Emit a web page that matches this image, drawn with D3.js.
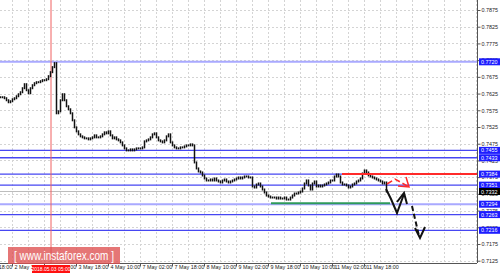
<!DOCTYPE html>
<html>
<head>
<meta charset="utf-8">
<script src="https://cdnjs.cloudflare.com/ajax/libs/d3/7.8.5/d3.min.js"></script>
<style>
  body { margin: 0; background: #fff; }
  svg { display: block; font-family: "Liberation Sans", Arial, sans-serif; }
  .grid line { stroke: #d4d4d4; stroke-dasharray: 2,2; }
  .axis path, .axis line { stroke: #555; }
  .axis text { font-size: 5.4px; fill: #222; }
</style>
</head>
<body>
<svg id="chart" width="500" height="273"></svg>
<script>
// hourly closes, one per bar
var closes = [
  0.7614, 0.7614, 0.7611, 0.7605, 0.7599, 0.7602, 0.7608, 0.7611, 0.7617, 0.7623,
  0.7629, 0.7641, 0.7653, 0.7635, 0.7626, 0.7641, 0.7650, 0.7656, 0.7659, 0.7659,
  0.7662, 0.7665, 0.7665, 0.7668, 0.7677, 0.7689, 0.7704, 0.7716, 0.7566, 0.7572,
  0.7605, 0.7623, 0.7605, 0.7587, 0.7578, 0.7566, 0.7545, 0.7524, 0.7512, 0.7503,
  0.7497, 0.7494, 0.7491, 0.7491, 0.7488, 0.7491, 0.7494, 0.7500, 0.7494, 0.7494,
  0.7497, 0.7503, 0.7509, 0.7506, 0.7512, 0.7500, 0.7491, 0.7494, 0.7488, 0.7485,
  0.7479, 0.7470, 0.7461, 0.7455, 0.7455, 0.7458, 0.7455, 0.7458, 0.7461, 0.7461,
  0.7461, 0.7464, 0.7482, 0.7485, 0.7488, 0.7494, 0.7503, 0.7506, 0.7494, 0.7485,
  0.7482, 0.7479, 0.7485, 0.7497, 0.7503, 0.7479, 0.7470, 0.7464, 0.7461, 0.7461,
  0.7464, 0.7464, 0.7467, 0.7470, 0.7470, 0.7473, 0.7470, 0.7419, 0.7401, 0.7392,
  0.7389, 0.7380, 0.7371, 0.7365, 0.7365, 0.7368, 0.7365, 0.7371, 0.7365, 0.7362,
  0.7359, 0.7365, 0.7368, 0.7362, 0.7359, 0.7362, 0.7365, 0.7368, 0.7371, 0.7374,
  0.7371, 0.7374, 0.7377, 0.7377, 0.7374, 0.7374, 0.7347, 0.7344, 0.7353, 0.7356,
  0.7347, 0.7338, 0.7329, 0.7320, 0.7317, 0.7314, 0.7314, 0.7314, 0.7311, 0.7314,
  0.7311, 0.7311, 0.7314, 0.7308, 0.7308, 0.7314, 0.7320, 0.7326, 0.7326, 0.7329,
  0.7332, 0.7341, 0.7356, 0.7365, 0.7350, 0.7338, 0.7356, 0.7362, 0.7347, 0.7350,
  0.7347, 0.7350, 0.7353, 0.7356, 0.7359, 0.7365, 0.7365, 0.7377, 0.7383, 0.7377,
  0.7359, 0.7353, 0.7353, 0.7350, 0.7344, 0.7347, 0.7353, 0.7356, 0.7362, 0.7365,
  0.7371, 0.7386, 0.7395, 0.7389, 0.7380, 0.7377, 0.7374, 0.7371, 0.7368, 0.7365,
  0.7362, 0.7356, 0.7359, 0.7332
];

var priceTicks = [0.7125, 0.7175, 0.7225, 0.7275, 0.7325, 0.7375, 0.7425, 0.7475,
  0.7525, 0.7575, 0.7625, 0.7675, 0.7725, 0.7775, 0.7825, 0.7875];
var levels = [0.7720, 0.7455, 0.7433, 0.7384, 0.7351, 0.7294, 0.7263, 0.7216];
var softLevels = [0.7720, 0.7294];
var lastPrice = 0.7332;
var resistance = 0.7384;
var support = 0.7294;

var timeBars = [-10, 6, 22, 38, 54, 70, 86, 102, 118, 134, 150, 166, 182];
var timeLabels = ["1 May 18:00", "2 May 10:00", "3 May 02:00", "3 May 18:00", "4 May 10:00",
  "7 May 02:00", "7 May 18:00", "8 May 10:00", "9 May 02:00", "9 May 18:00",
  "10 May 10:00", "11 May 02:00", "11 May 18:00"];
var gridBars = [-2, 6, 14, 22, 30, 38, 46, 54, 62, 70, 78, 86, 94, 102, 110, 118, 126,
  134, 142, 150, 158, 166, 174, 182, 190, 198, 206, 214, 222, 230, 238];
var crossBar = 25.5;
var crossLabel = "2018.05.03 05:00";

var W = 477, H = 263;
var svg = d3.select('#chart');
var x = d3.scaleLinear().domain([0, 238.5]).range([0, W]);
var y = d3.scaleLinear().domain([0.7125, 0.7875]).range([260.7, 10]);

var plot = svg.append('g');
plot.append('clipPath').attr('id', 'clip')
  .append('rect').attr('width', W).attr('height', H);
var inner = plot.append('g').attr('clip-path', 'url(#clip)');

// grid
var grid = inner.append('g').attr('class', 'grid');
grid.selectAll('.gx').data(gridBars).enter().append('line')
  .attr('x1', function (d) { return x(d) + 0.5; })
  .attr('x2', function (d) { return x(d) + 0.5; })
  .attr('y1', 0).attr('y2', H);
grid.selectAll('.gy').data(priceTicks).enter().append('line')
  .attr('x1', 0).attr('x2', W)
  .attr('y1', function (d) { return Math.round(y(d)) + 0.5; })
  .attr('y2', function (d) { return Math.round(y(d)) + 0.5; });

// current price line
inner.append('line')
  .attr('x1', 0).attr('x2', W)
  .attr('y1', y(lastPrice)).attr('y2', y(lastPrice))
  .attr('stroke', '#bdbdbd').attr('stroke-width', 1);

// levels
inner.selectAll('.level').data(levels).enter().append('line')
  .attr('x1', 0).attr('x2', W)
  .attr('y1', function (d) { return y(d); })
  .attr('y2', function (d) { return y(d); })
  .attr('stroke', function (d) { return softLevels.indexOf(d) >= 0 ? '#a9a9ff' : '#4646f2'; })
  .attr('stroke-width', function (d) { return softLevels.indexOf(d) >= 0 ? 2 : 1.3; });

// crosshair
inner.append('line')
  .attr('x1', x(crossBar)).attr('x2', x(crossBar))
  .attr('y1', 0).attr('y2', H)
  .attr('stroke', '#f06060').attr('stroke-width', 1);

// candles
inner.selectAll('.bar').data(closes).enter().append('line')
  .attr('x1', function (d, i) { return x(i) + 0.5; })
  .attr('x2', function (d, i) { return x(i) + 0.5; })
  .attr('y1', function (d, i) {
    var o = i > 0 ? closes[i - 1] : d;
    return Math.min(y(o), y(d)) - 1;
  })
  .attr('y2', function (d, i) {
    var o = i > 0 ? closes[i - 1] : d;
    return Math.max(y(o), y(d)) + 1;
  })
  .attr('stroke', '#111').attr('stroke-width', 1.5);

// red resistance and green support
inner.append('line')
  .attr('x1', x(171)).attr('x2', W)
  .attr('y1', y(resistance)).attr('y2', y(resistance))
  .attr('stroke', '#ff2a2a').attr('stroke-width', 2);
inner.append('line')
  .attr('x1', x(135.5)).attr('x2', x(195))
  .attr('y1', y(support) - 1).attr('y2', y(support) - 1)
  .attr('stroke', '#2e9a5a').attr('stroke-width', 2);

// hand drawn arrows
var line = d3.line();
inner.append('path')
  .attr('d', line([[386, 189], [391, 199], [397, 213], [404, 194]]))
  .attr('fill', 'none').attr('stroke', '#111').attr('stroke-width', 2);
inner.append('path')
  .attr('d', line([[397, 202], [404, 193], [407, 204]]))
  .attr('fill', 'none').attr('stroke', '#111').attr('stroke-width', 2);
inner.append('path')
  .attr('d', line([[412, 206], [419, 236]]))
  .attr('fill', 'none').attr('stroke', '#111').attr('stroke-width', 2)
  .attr('stroke-dasharray', '5,3');
inner.append('path')
  .attr('d', line([[415, 228], [420, 238], [425, 227]]))
  .attr('fill', 'none').attr('stroke', '#111').attr('stroke-width', 2);
inner.append('path')
  .attr('d', line([[387, 184], [395, 179], [409, 187]]))
  .attr('fill', 'none').attr('stroke', '#ff2a2a').attr('stroke-width', 1.5)
  .attr('stroke-dasharray', '6,3');
inner.append('path')
  .attr('d', line([[406, 177], [409, 187], [398, 186]]))
  .attr('fill', 'none').attr('stroke', '#ff2a2a').attr('stroke-width', 1.5);

// axes
var rightAxis = svg.append('g').attr('class', 'axis')
  .attr('transform', 'translate(' + (W + 0.5) + ',0)')
  .call(d3.axisRight(y).tickValues(priceTicks).tickFormat(d3.format('.4f')).tickSize(3).tickSizeOuter(0));
rightAxis.select('.domain').attr('d', 'M0,0V' + H);
rightAxis.selectAll('text').attr('x', 4);

var bottomAxis = svg.append('g').attr('class', 'axis')
  .attr('transform', 'translate(0,' + (H + 0.5) + ')')
  .call(d3.axisBottom(x).tickValues(timeBars).tickFormat(function (d, i) { return timeLabels[i]; })
    .tickSize(3).tickSizeOuter(0));
bottomAxis.select('.domain').attr('d', 'M0,0H' + W);
bottomAxis.selectAll('text').attr('text-anchor', 'start').attr('dx', 2).attr('y', 2).attr('dy', '0.71em')
  .attr('font-size', '5px');

// price boxes
var boxes = svg.append('g');
function priceBox(v, fill) {
  var g = boxes.append('g').attr('transform', 'translate(479,' + y(v) + ')');
  g.append('rect').attr('x', 0).attr('y', -3.5).attr('width', 21).attr('height', 7).attr('fill', fill);
  g.append('text').attr('x', 2).attr('y', 2).attr('font-size', '5.4px').attr('fill', '#fff')
    .text(d3.format('.4f')(v));
}
levels.forEach(function (v) { priceBox(v, '#1c1cff'); });
priceBox(lastPrice, '#000');

// crosshair time box
var cg = svg.append('g').attr('transform', 'translate(' + (x(crossBar) - 19) + ',265)');
cg.append('rect').attr('width', 38).attr('height', 8).attr('fill', '#ff1010');
cg.append('text').attr('x', 19).attr('y', 6).attr('text-anchor', 'middle')
  .attr('font-size', '5px').attr('fill', '#fff').text(crossLabel);

// watermark
var wm = svg.append('g');
wm.append('rect').attr('x', 8).attr('y', 247).attr('width', 112).attr('height', 17)
  .attr('fill', '#de4f4f').attr('opacity', 0.78);
wm.append('text').attr('x', 64).attr('y', 260).attr('text-anchor', 'middle')
  .attr('font-size', '12px').attr('fill', '#fff')
  .attr('textLength', 100).attr('lengthAdjust', 'spacingAndGlyphs')
  .text('[ www.instaforex.com ]');
</script>
</body>
</html>
